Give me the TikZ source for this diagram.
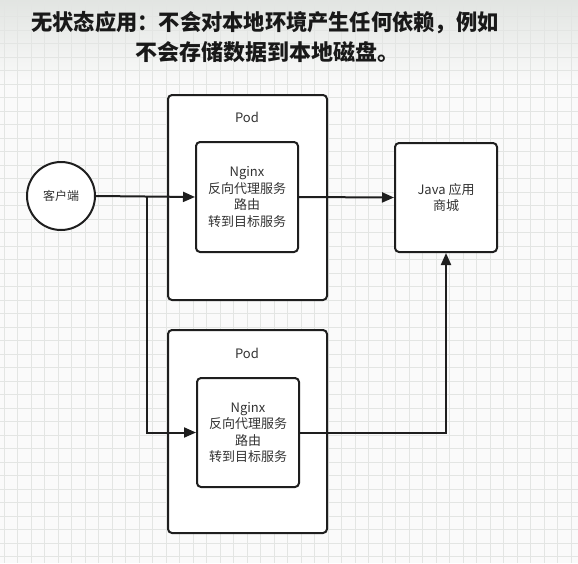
\documentclass[tikz,border=0pt]{standalone}
\usepackage{fontspec}
\usepackage{graphicx}
\setmainfont{Noto Sans CJK SC}
\usetikzlibrary{arrows.meta}
\definecolor{gridc}{HTML}{E3E5E3}
\definecolor{bgc}{HTML}{FAFAFA}
\definecolor{linec}{HTML}{1E1E1E}
\definecolor{txtc}{HTML}{333333}
\definecolor{titlebg}{HTML}{E2E5E2}
\tikzset{
  boxst/.style={draw=linec, line width=2pt, rounded corners=4pt, fill=white, inner sep=0pt},
  lbl/.style={font=\fontsize{13}{16.5}\selectfont, text=txtc, align=center},
  circst/.style={draw=linec, line width=2pt, circle, fill=white, minimum size=68pt, inner sep=0pt, font=\fontsize{12}{15}\selectfont, text=txtc},
  conn/.style={draw=linec, line width=2pt, -{Triangle[length=12pt,width=10pt]}},
  titlest/.style={font=\fontsize{22}{30}\selectfont\bfseries, text=black!90, inner sep=0pt}
}
\begin{document}
\begin{tikzpicture}[x=1pt,y=-1pt]
\useasboundingbox (0,0) rectangle (578,563);
\fill[bgc] (0,0) rectangle (578,563);
\shade[top color=titlebg, bottom color=bgc] (0,0) rectangle (578,85);
\foreach \i in {0,...,43} \draw[gridc, line width=0.7pt] (\i*13.5+4,0) -- (\i*13.5+4,563);
\foreach \i in {0,...,42} \draw[gridc, line width=0.7pt] (0,\i*13.5+3) -- (578,\i*13.5+3);
\node[titlest] (title1) at (265,23) {\scalebox{0.965}[1]{无状态应用：不会对本地环境产生任何依赖，例如}};
\node[titlest] (title2) at (267,52) {不会存储数据到本地磁盘。};
\node[boxst, minimum width=159pt, minimum height=205pt] (pod1) at (247.5,197.5) {};
\node[lbl] (pod1l) at (247,117) {Pod};
\node[boxst, minimum width=102pt, minimum height=110pt, lbl] (ng1) at (247,197)
  {Nginx\\反向代理服务\\路由\\转到目标服务};
\node[boxst, minimum width=159pt, minimum height=203pt] (pod2) at (247.5,431.5) {};
\node[lbl] (pod2l) at (247,353) {Pod};
\node[boxst, minimum width=102pt, minimum height=109pt, lbl] (ng2) at (248,432.5)
  {Nginx\\反向代理服务\\路由\\转到目标服务};
\node[boxst, minimum width=102pt, minimum height=109pt, lbl] (java) at (446,197.5)
  {Java 应用\\商城};
\node[circst] (client) at (61,196) {客户端};
\coordinate (br) at (147,196);
\draw[conn] (client.east) -- (ng1.west);
\draw[conn] (br) |- (ng2.west);
\draw[conn] (ng1.east) -- (java.west);
\draw[conn] (ng2.east) -| (java.south);
\end{tikzpicture}
\end{document}
